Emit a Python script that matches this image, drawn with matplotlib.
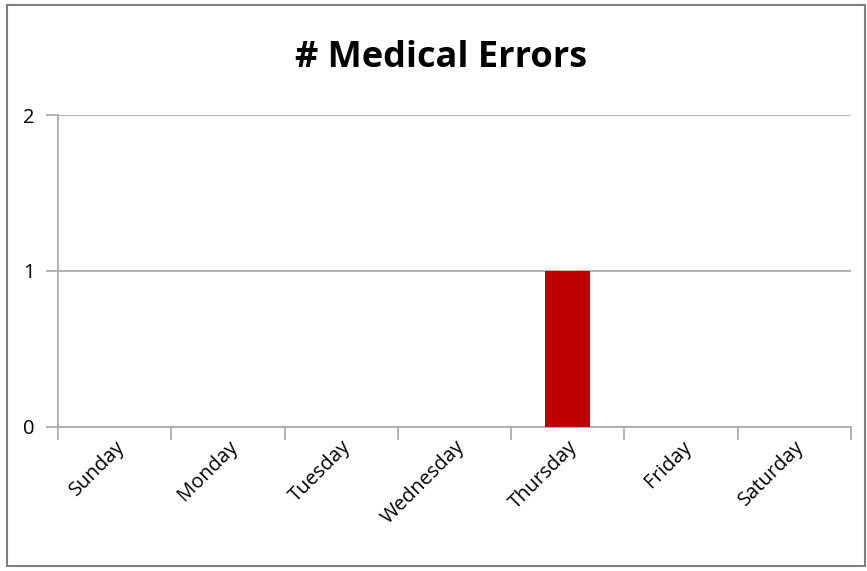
import matplotlib.pyplot as plt
from matplotlib.patches import Rectangle

days = ['Sunday', 'Monday', 'Tuesday', 'Wednesday', 'Thursday', 'Friday', 'Saturday']
errors = [0, 0, 0, 0, 1, 0, 0]
y_ticks = [0, 1, 2]

plt.rcParams['font.family'] = ['Open Sans', 'DejaVu Sans']

fig = plt.figure(figsize=(8.67, 5.71), dpi=100)
ax = fig.add_axes([58 / 867, 1 - 427 / 571, (851 - 58) / 867, (427 - 115) / 571])

x = range(len(days))
ax.bar(x, errors, width=0.4, color='#C00000', zorder=3)

ax.set_xlim(-0.5, len(days) - 0.5)
ax.set_ylim(0, 2)
ax.set_yticks(y_ticks)
ax.set_yticklabels([str(t) for t in y_ticks], fontsize=14.5)
ax.yaxis.grid(True, color='#a6a6a6', linewidth=1.2, zorder=0)
ax.tick_params(axis='y', length=9, color='#a6a6a6', width=1.2, pad=8)

# category labels in the middle, tick marks on the boundaries
ax.set_xticks(list(x))
ax.set_xticklabels(days, rotation=45, ha='right', rotation_mode='anchor', fontsize=14.5)
ax.tick_params(axis='x', length=0, pad=7)
ax.set_xticks([i - 0.5 for i in range(len(days) + 1)], minor=True)
ax.tick_params(axis='x', which='minor', length=9, color='#a6a6a6', width=1.2)

for side in ['top', 'right']:
    ax.spines[side].set_visible(False)
ax.spines['left'].set_color('#a6a6a6')
ax.spines['bottom'].set_color('#a6a6a6')
ax.spines['left'].set_linewidth(1.2)
ax.spines['bottom'].set_linewidth(1.2)

fig.text(441 / 867, 1 - 58 / 571, '# Medical Errors', ha='center', va='center',
         fontsize=26, fontweight='bold')

fig.patches.append(Rectangle((7 / 867, 5 / 571), 858 / 867, 561 / 571, transform=fig.transFigure,
                             fill=False, edgecolor='#7f7f7f', linewidth=1.5))

fig.savefig('out.png', dpi=100)
